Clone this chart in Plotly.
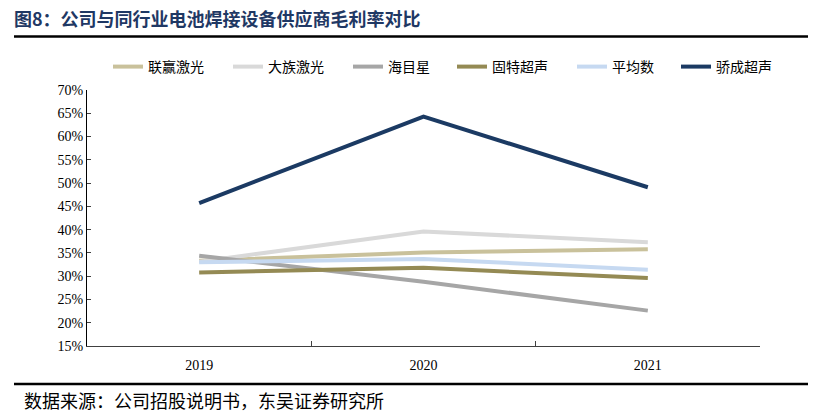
import plotly.graph_objects as go

years = ["2019", "2020", "2021"]
series_names = ["联赢激光", "大族激光", "海目星", "固特超声", "平均数", "骄成超声"]
lianying = [0.333, 0.351, 0.358]
dazu = [0.331, 0.396, 0.373]
haimuxing = [0.344, 0.288, 0.226]
gute = [0.308, 0.318, 0.296]
average = [0.330, 0.337, 0.314]
jiaocheng = [0.457, 0.643, 0.491]
series_values = [lianying, dazu, haimuxing, gute, average, jiaocheng]
colors = ["#C9C19B", "#D9D9D9", "#A6A6A6", "#948A54", "#C6D9F1", "#1B3A63"]
y_ticks = [0.15, 0.20, 0.25, 0.30, 0.35, 0.40, 0.45, 0.50, 0.55, 0.60, 0.65, 0.70]

W, H = 817, 418
L, R, T, B = 87, 57, 90, 72
PW, PH = W - L - R, H - T - B
legend_left_px = [108, 228, 348, 452, 572, 676]

cjk = "Noto Sans CJK SC"
serif = "Liberation Serif"

fig = go.Figure()
legend_layouts = {}
for i, (name, vals, c) in enumerate(zip(series_names, series_values, colors)):
    lg = "legend" if i == 0 else f"legend{i + 1}"
    fig.add_trace(go.Scatter(x=years, y=vals, name=name, mode="lines",
                             line=dict(color=c, width=4), legend=lg))
    legend_layouts[lg] = dict(orientation="h",
                              x=(legend_left_px[i] - L) / PW, xanchor="left",
                              y=1 + (T - 67) / PH, yanchor="middle",
                              font=dict(family=cjk, size=14, color="#000000"),
                              bgcolor="rgba(0,0,0,0)")

fig.update_layout(
    width=W, height=H,
    margin=dict(l=L, r=R, t=T, b=B, autoexpand=False),
    paper_bgcolor="white", plot_bgcolor="white",
    showlegend=True,
    xaxis=dict(type="category", range=[-0.5, 2.5], showline=True,
               linecolor="#404040", linewidth=1.3, ticks="inside", tickson="boundaries",
               ticklen=5, tickcolor="#404040", showgrid=False, zeroline=False,
               tickfont=dict(family=serif, size=14, color="#000000"), ticklabelstandoff=6),
    yaxis=dict(range=[0.15, 0.70], tickvals=y_ticks, tickformat=".0%",
               showline=True, linecolor="#000000", linewidth=1.3, ticks="inside",
               ticklen=4, tickcolor="#404040", showgrid=False, zeroline=False,
               tickfont=dict(family=serif, size=14, color="#000000")),
    **legend_layouts,
)

fig.add_annotation(xref="paper", yref="paper", x=-(L - 12) / PW, y=1 + (T - 18) / PH,
                   xanchor="left", yanchor="middle", showarrow=False,
                   text="<b>图8：公司与同行业电池焊接设备供应商毛利率对比</b>",
                   font=dict(family=cjk, size=18, color="#1F3864"))
fig.add_annotation(xref="paper", yref="paper", x=-(L - 22) / PW, y=-(400 - (H - B)) / PH,
                   xanchor="left", yanchor="middle", showarrow=False,
                   text="数据来源：公司招股说明书，东吴证券研究所",
                   font=dict(family=cjk, size=18, color="#000000"))
fig.add_shape(type="line", xref="paper", yref="paper",
              x0=-(L - 14) / PW, x1=1 + (808 - (W - R)) / PW,
              y0=1 + (T - 36.5) / PH, y1=1 + (T - 36.5) / PH,
              line=dict(color="#000000", width=2.5))
fig.add_shape(type="line", xref="paper", yref="paper",
              x0=-(L - 14) / PW, x1=1 + (808 - (W - R)) / PW,
              y0=-(384 - (H - B)) / PH, y1=-(384 - (H - B)) / PH,
              line=dict(color="#000000", width=2.5))

fig.write_html("out.html", config={"displayModeBar": False},
               post_script="document.body.style.margin='0';document.body.style.overflow='hidden';")
